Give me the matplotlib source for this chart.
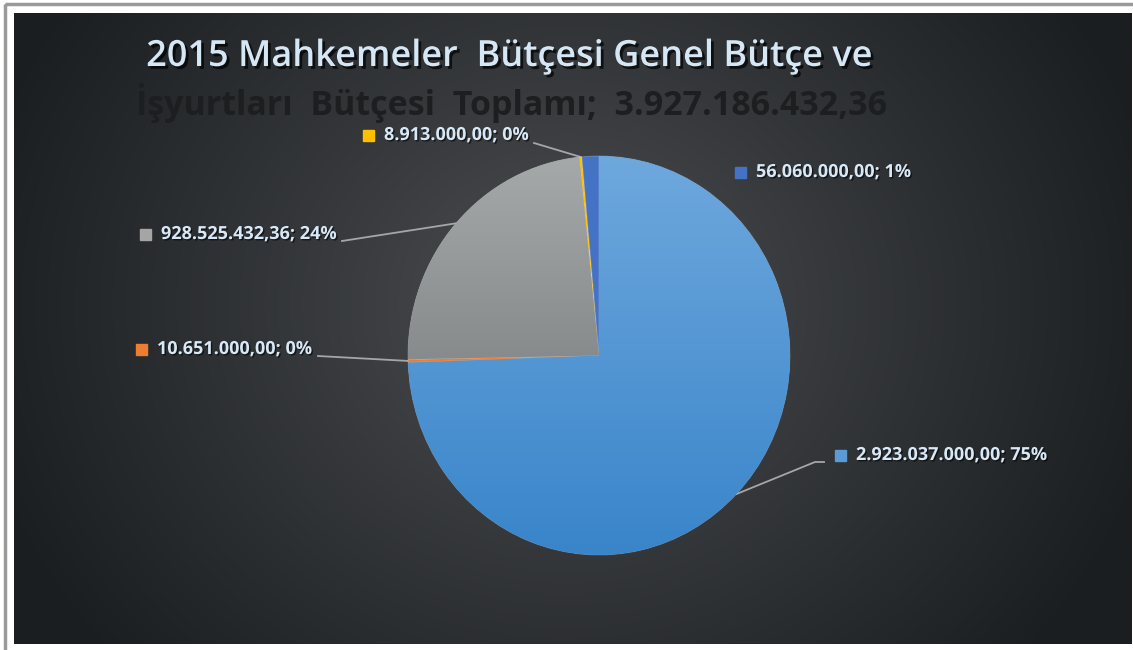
import numpy as np
import matplotlib
matplotlib.use("Agg")
import matplotlib.pyplot as plt
import matplotlib.patheffects as pe
from matplotlib.colors import LinearSegmentedColormap

# data
values = [2923037000.00, 10651000.00, 928525432.36, 8913000.00, 56060000.00]
labels = ["2.923.037.000,00; 75%", "10.651.000,00; 0%", "928.525.432,36; 24%",
          "8.913.000,00; 0%", "56.060.000,00; 1%"]
colors = ["#5B9BD5", "#ED7D31", "#A5A5A5", "#FFC000", "#4472C4"]
title1 = "2015 Mahkemeler  Bütçesi Genel Bütçe ve"
title2 = "İşyurtları  Bütçesi  Toplamı;  3.927.186.432,36"

W, H = 1133, 650
# pie box in pixels
cx, cy, rx, ry = 599, 355.5, 191, 199.5
# label anchors (marker left x, y) and leader start
label_pos = [(835, 455), (136, 349), (140, 234), (363, 135), (735, 172)]
leader_start = [(824, 462), (318, 356), (342, 241), (534, 143), None]

fig = plt.figure(figsize=(W / 100, H / 100), dpi=100)
fig.patch.set_facecolor("white")

bg = fig.add_axes([0, 0, 1, 1])
bg.set_xlim(0, W)
bg.set_ylim(H, 0)
bg.axis("off")

# outer frame
bg.add_patch(plt.Rectangle((5, 4), W + 10, H + 10, fill=False, ec="#9a9a9a", lw=2.5))

# dark radial background
yy, xx = np.mgrid[0:H, 0:W]
r = np.sqrt(((xx - 560) / 1.0) ** 2 + ((yy - 300) / 0.9) ** 2)
t = np.clip(r / 620, 0, 1) ** 0.9
light = np.array([0x4e, 0x50, 0x53]) / 255
dark = np.array([0x1b, 0x1e, 0x21]) / 255
img = light[None, None, :] * (1 - t[..., None]) + dark[None, None, :] * t[..., None]
bg.imshow(img, extent=[14, 1132, 644, 13], zorder=0, interpolation="bilinear")
bg.set_xlim(0, W)
bg.set_ylim(H, 0)

# titles
bg.text(509, 57, title1, ha="center", va="center", fontsize=26, color="#d5e7f5",
        family="Open Sans", weight="semibold",
        path_effects=[pe.SimplePatchShadow(offset=(2, -2), shadow_rgbFace="black", alpha=0.7),
                      pe.Normal()])
bg.text(512, 103, title2, ha="center", va="center", fontsize=24.5, color="#1c1e20",
        family="Open Sans", weight="bold")

# pie
pax = fig.add_axes([(cx - rx) / W, 1 - (cy + ry) / H, 2 * rx / W, 2 * ry / H])
pax.axis("off")
wedges, _ = pax.pie(values, colors=colors, startangle=90, counterclock=False,
                    radius=1, wedgeprops=dict(ec=(1, 1, 1, 0.25), lw=0.6))
pax.set_xlim(-1, 1)
pax.set_ylim(-1, 1)
pax.set_aspect("auto")

grads = {0: ("#3985ca", "#6ea8dd"), 2: ("#6a6e70", "#a6a9aa")}
for i, (c0, c1) in grads.items():
    cm = LinearSegmentedColormap.from_list("g", [c0, c1])
    g = np.linspace(0, 1, 256).reshape(-1, 1)
    im = pax.imshow(g, cmap=cm, extent=[-1, 1, -1, 1], origin="lower",
                    aspect="auto", zorder=wedges[i].get_zorder() + 0.1)
    im.set_clip_path(wedges[i])
pax.set_xlim(-1, 1)
pax.set_ylim(-1, 1)

# labels + leaders
lab_fx = [pe.SimplePatchShadow(offset=(1, -1), shadow_rgbFace="black", alpha=0.6), pe.Normal()]
for w, lab, col, (lx, ly), st in zip(wedges, labels, colors, label_pos, leader_start):
    bg.add_patch(plt.Rectangle((lx, ly - 5.5), 11, 11, color=col, zorder=5))
    bg.text(lx + 21, ly, lab, ha="left", va="center", fontsize=13, color="#d8e8f6",
            family="Open Sans", weight="bold", path_effects=lab_fx, zorder=6)
    if st is not None:
        mid = np.deg2rad((w.theta1 + w.theta2) / 2)
        ex = cx + rx * np.cos(mid)
        ey = cy - ry * np.sin(mid)
        if lx > cx:
            pts = [(st[0], st[1]), (st[0] - 9, st[1]), (ex, ey)]
        else:
            pts = [(st[0], st[1]), (ex, ey)]
        bg.plot(*zip(*pts), color="#a6a6a6", lw=1.3, zorder=4)

fig.savefig("out.png", dpi=100, facecolor="white")
